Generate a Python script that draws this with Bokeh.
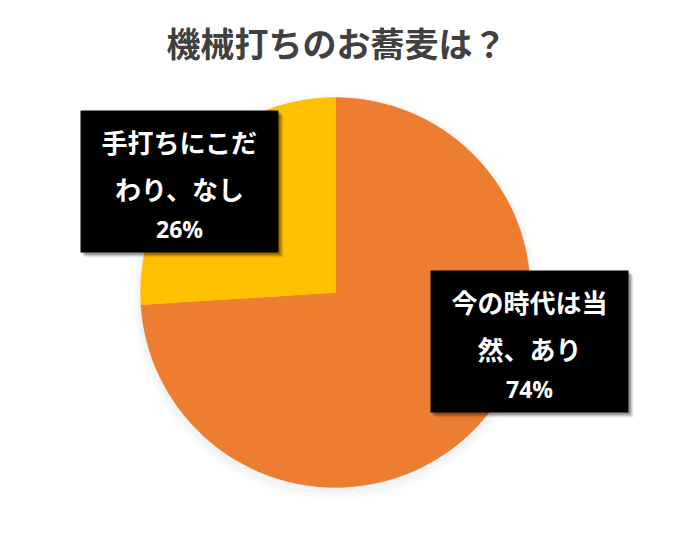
import numpy as np
from bokeh.plotting import figure
from bokeh.models import Range1d, ColumnDataSource
from bokeh.core.properties import value
from bokeh.embed import file_html
from bokeh.resources import INLINE

# ---- data ----
title = "機械打ちのお蕎麦は？"
categories = ["今の時代は当然、あり", "手打ちにこだわり、なし"]
label_lines = [["今の時代は当", "然、あり"], ["手打ちにこだ", "わり、なし"]]
values = [74, 26]
colors = ["#ED7D31", "#FFC000"]

FONT = value("Noto Sans CJK JP")
W, H = 667, 525
p = figure(width=W, height=H, x_range=Range1d(0, 667), y_range=Range1d(0, 525),
           output_backend="svg", toolbar_location=None, min_border=0)
p.axis.visible = False
p.grid.visible = False
p.outline_line_color = None
p.background_fill_color = "white"
p.border_fill_color = "white"


def Y(py):
    return 525 - py


# pie geometry (page pixels)
cx, cy, r = 335, Y(292), 195

# soft shadow under the pie
for dr, a in [(9, 0.025), (6, 0.035), (3, 0.05)]:
    p.circle(x=[cx], y=[cy - 4], radius=r + dr, fill_color="#8f9bb0",
             fill_alpha=a, line_color=None)

total = float(sum(values))
fr = np.array(values) / total
cum = np.concatenate([[0.0], np.cumsum(fr)])
start = np.pi / 2 - 2 * np.pi * cum[:-1]
end = np.pi / 2 - 2 * np.pi * cum[1:]
src = ColumnDataSource(dict(start=start, end=end, color=colors,
                            cat=categories, val=values))
p.wedge(x=cx, y=cy, radius=r, start_angle="start", end_angle="end",
        direction="clock", fill_color="color", line_color="color",
        line_width=0.5, source=src)

# label boxes (page px: left, top, right, bottom) for each category
boxes = [(430, 270, 628, 412), (80, 110, 278, 252)]
for (l, t, rr, b), lines, v in zip(boxes, label_lines, values):
    for off, a in [(5, 0.06), (4, 0.1), (3, 0.14), (2, 0.18)]:
        p.quad(left=l + off, right=rr + off, top=Y(t + off), bottom=Y(b + off),
               fill_color="#000000", fill_alpha=a, line_color=None)
    p.quad(left=l, right=rr, top=Y(t), bottom=Y(b), fill_color="#000000",
           line_color=None)
    xc = (l + rr) / 2
    p.text(x=[xc, xc], y=[Y(t + 31), Y(t + 78)], text=lines,
           text_font=FONT, text_font_style="bold", text_font_size="26px",
           text_color="white", text_align="center", text_baseline="middle")
    p.text(x=[xc], y=[Y(t + 118)], text=[f"{v}%"],
           text_font=value("Open Sans"), text_font_style="bold",
           text_font_size="23px", text_color="white", text_align="center",
           text_baseline="middle")

# title
p.text(x=[336], y=[Y(42)], text=[title], text_font=FONT,
       text_font_style="bold", text_font_size="34px", text_color="#404040",
       text_align="center", text_baseline="middle")

open("out.html", "w").write(file_html(p, INLINE))
